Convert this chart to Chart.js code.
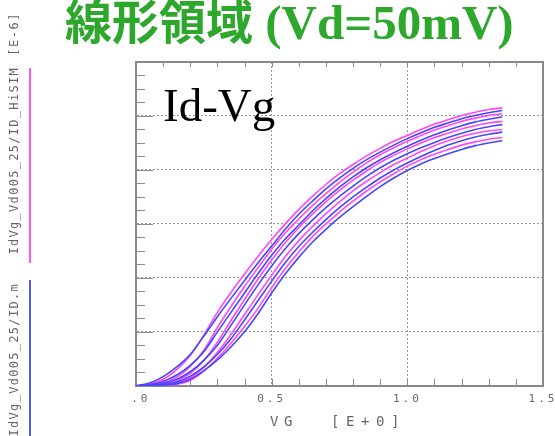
<!DOCTYPE html>
<html>
<head>
<meta charset="utf-8">
<script src="https://cdn.jsdelivr.net/npm/chart.js@4.4.1/dist/chart.umd.min.js"></script>
<style>
  html, body { margin: 0; padding: 0; background: #fff; }
  #wrap { position: relative; width: 555px; height: 436px; overflow: hidden; }
  #chart { position: absolute; left: 0; top: 0; }
  .txt { position: absolute; white-space: pre; }
  #title { left: 65px; top: -5px; font-size: 47px; line-height: 1; color: #2da82d; font-weight: bold; }
  #title .jp { font-family: "Noto Sans CJK JP", sans-serif; }
  #title .en { font-family: "Liberation Serif", serif; font-size: 49px; }
  #idvg { left: 163px; top: 82px; font-family: "Liberation Serif", serif; font-size: 47px; line-height: 1; color: #000; }
  .vert { writing-mode: vertical-rl; transform: rotate(180deg); font-family: "DejaVu Sans Mono", monospace;
          font-size: 12px; line-height: 14px; color: #666; }
  .xt { position: absolute; top: 413px; font-family: "DejaVu Sans Mono", monospace; font-size: 14px; color: #666; white-space: pre; }
  .key { position: absolute; width: 2px; }
</style>
</head>
<body>
<div id="wrap">
  <canvas id="chart" width="555" height="436"></canvas>
  <div id="title" class="txt"><span class="jp">線形領域</span><span class="en"> (Vd=50mV)</span></div>
  <div id="idvg" class="txt">Id-Vg</div>
  <div class="txt vert" style="left:7px; top:12px; letter-spacing:1.5px;">[E-6]</div>
  <div class="txt vert" style="left:7px; top:67px; letter-spacing:1.3px;">IdVg_Vd005_25/ID_HiSIM</div>
  <div class="txt vert" style="left:7px; top:283px; letter-spacing:1.3px;">IdVg_Vd005_25/ID.m</div>
  <div class="key" style="left:29px; top:68px; height:195px; background:#ff55ff;"></div>
  <div class="key" style="left:29px; top:280px; height:160px; background:#5555ff;"></div>
  <div><span class="xt" style="left:270px; letter-spacing:5.6px;">VG </span><span class="xt" style="left:331px; letter-spacing:6.6px;">[E+0]</span></div>
</div>
<script>
// gate voltage sweep (V)
const vg = [0, 0.05, 0.1, 0.15, 0.2, 0.25, 0.3, 0.35, 0.4, 0.45, 0.5, 0.55, 0.6, 0.65, 0.7,
            0.75, 0.8, 0.85, 0.9, 0.95, 1.0, 1.05, 1.1, 1.15, 1.2, 1.25, 1.3, 1.35];

// measured Id (E-6 A), ID.m
const meas1 = [0, 0.05, 0.17, 0.35, 0.58, 0.92, 1.28, 1.62, 1.95, 2.28, 2.59, 2.90, 3.18, 3.42,
               3.65, 3.85, 4.03, 4.19, 4.33, 4.46, 4.58, 4.69, 4.79, 4.87, 4.95, 5.01, 5.06, 5.10];
const meas2 = [0, 0.02, 0.08, 0.20, 0.38, 0.63, 1.00, 1.36, 1.72, 2.08, 2.42, 2.72, 2.98, 3.24,
               3.47, 3.68, 3.87, 4.04, 4.19, 4.32, 4.44, 4.55, 4.65, 4.74, 4.82, 4.89, 4.94, 4.98];
const meas3 = [0, 0.01, 0.04, 0.12, 0.26, 0.47, 0.75, 1.12, 1.50, 1.87, 2.22, 2.54, 2.82, 3.07,
               3.30, 3.51, 3.70, 3.88, 4.04, 4.18, 4.30, 4.41, 4.51, 4.60, 4.68, 4.75, 4.80, 4.84];
const meas4 = [0, 0, 0.02, 0.07, 0.18, 0.35, 0.58, 0.87, 1.22, 1.58, 1.94, 2.28, 2.58, 2.84,
               3.08, 3.30, 3.50, 3.68, 3.85, 4.00, 4.13, 4.25, 4.36, 4.46, 4.54, 4.61, 4.66, 4.70];
const meas5 = [0, 0, 0.01, 0.04, 0.12, 0.28, 0.48, 0.72, 1.00, 1.34, 1.72, 2.07, 2.38, 2.66,
               2.90, 3.12, 3.32, 3.51, 3.69, 3.85, 3.99, 4.11, 4.21, 4.30, 4.38, 4.45, 4.50, 4.54];

// simulated Id (E-6 A), ID_HiSIM
const sim1 = [0, 0.03, 0.12, 0.30, 0.56, 0.94, 1.36, 1.73, 2.07, 2.40, 2.71, 3.00, 3.27, 3.51,
              3.73, 3.93, 4.10, 4.26, 4.40, 4.53, 4.64, 4.75, 4.85, 4.93, 5.01, 5.07, 5.12, 5.15];
const sim2 = [0, 0.01, 0.05, 0.16, 0.36, 0.66, 1.08, 1.47, 1.84, 2.19, 2.53, 2.83, 3.09, 3.34,
              3.56, 3.77, 3.96, 4.13, 4.28, 4.41, 4.53, 4.64, 4.74, 4.82, 4.90, 4.96, 5.01, 5.04];
const sim3 = [0, 0, 0.02, 0.09, 0.23, 0.47, 0.81, 1.21, 1.60, 1.98, 2.33, 2.65, 2.93, 3.18,
              3.41, 3.62, 3.81, 3.98, 4.14, 4.27, 4.39, 4.50, 4.60, 4.68, 4.76, 4.82, 4.87, 4.90];
const sim4 = [0, 0, 0.01, 0.05, 0.15, 0.34, 0.62, 0.95, 1.32, 1.69, 2.05, 2.39, 2.69, 2.95,
              3.19, 3.41, 3.61, 3.79, 3.95, 4.10, 4.22, 4.34, 4.45, 4.54, 4.62, 4.68, 4.72, 4.75];
const sim5 = [0, 0, 0, 0.03, 0.10, 0.27, 0.51, 0.79, 1.10, 1.44, 1.82, 2.17, 2.48, 2.76,
              3.00, 3.22, 3.42, 3.61, 3.78, 3.93, 4.07, 4.19, 4.29, 4.38, 4.46, 4.52, 4.57, 4.60];

const xTickValues = [0, 0.5, 1.0, 1.5];
const xTickLabels = [' .0', '0.5', '1.0', '1.5'];

const BLUE = '#4646ff';
const MAGENTA = '#ff46ff';
const GRAY = '#8a8a8a';

function pts(ys) {
  return ys.map((v, i) => ({ x: vg[i], y: v }));
}
function curve(ys, color) {
  return {
    data: pts(ys),
    borderColor: color,
    borderWidth: 1.6,
    pointRadius: 0,
    fill: false,
    cubicInterpolationMode: 'monotone'
  };
}
function near(a, b) { return Math.abs(a - b) < 1e-6; }

// small tick marks pointing into the plot, like the plotter output
const inwardTicks = {
  id: 'inwardTicks',
  beforeDatasetsDraw(chart) {
    const { ctx, chartArea: a, scales: { x, y } } = chart;
    ctx.save();
    ctx.strokeStyle = GRAY;
    ctx.lineWidth = 1;
    ctx.beginPath();
    x.ticks.forEach(t => {
      const px = Math.round(x.getPixelForValue(t.value)) + 0.5;
      ctx.moveTo(px, a.bottom); ctx.lineTo(px, a.bottom - 7);
      ctx.moveTo(px, a.top); ctx.lineTo(px, a.top + 5);
    });
    y.ticks.forEach(t => {
      const py = Math.round(y.getPixelForValue(t.value)) + 0.5;
      const len = near(t.value, Math.round(t.value)) ? 17 : 9;
      ctx.moveTo(a.left, py); ctx.lineTo(a.left + len, py);
    });
    ctx.stroke();
    ctx.restore();
  }
};

// wide spacing for the tick numbers
const spacing = {
  id: 'spacing',
  beforeLayout(chart) { chart.ctx.letterSpacing = '3px'; },
  beforeDraw(chart) { chart.ctx.letterSpacing = '3px'; }
};

new Chart(document.getElementById('chart'), {
  type: 'line',
  data: {
    datasets: [
      curve(meas1, BLUE), curve(meas2, BLUE), curve(meas3, BLUE), curve(meas4, BLUE), curve(meas5, BLUE),
      curve(sim1, MAGENTA), curve(sim2, MAGENTA), curve(sim3, MAGENTA), curve(sim4, MAGENTA), curve(sim5, MAGENTA)
    ]
  },
  options: {
    responsive: false,
    animation: false,
    devicePixelRatio: 1,
    layout: { padding: { left: 136, top: 62, right: 12, bottom: 23 } },
    plugins: { legend: { display: false }, tooltip: { enabled: false }, title: { display: false } },
    scales: {
      x: {
        type: 'linear', min: 0, max: 1.5,
        // let the last label run off the edge like the original
        afterFit: s => { s.paddingRight = 0; s.paddingLeft = 0; },
        ticks: {
          stepSize: 0.1, autoSkip: false, maxRotation: 0, padding: 7,
          color: '#666', font: { family: 'DejaVu Sans Mono', size: 11 },
          callback: v => {
            const i = xTickValues.findIndex(t => near(t, v));
            return i >= 0 ? xTickLabels[i] : '';
          }
        },
        grid: {
          drawTicks: false,
          color: c => (c.tick && (near(c.tick.value, 0.5) || near(c.tick.value, 1.0))) ? '#9a9a9a' : 'rgba(0,0,0,0)'
        },
        border: { display: true, color: GRAY, width: 2, dash: [2, 2] }
      },
      y: {
        type: 'linear', min: 0, max: 6,
        ticks: { stepSize: 0.25, display: false },
        grid: {
          drawTicks: false,
          color: c => {
            if (!c.tick) return 'rgba(0,0,0,0)';
            const v = c.tick.value;
            return (v > 0.5 && v < 5.5 && near(v, Math.round(v))) ? '#9a9a9a' : 'rgba(0,0,0,0)';
          }
        },
        border: { display: true, color: GRAY, width: 2, dash: [2, 2] }
      },
      x2: {
        type: 'linear', position: 'top', min: 0, max: 1.5,
        ticks: { display: false }, grid: { display: false, drawTicks: false },
        border: { display: true, color: GRAY, width: 2 }
      },
      y2: {
        type: 'linear', position: 'right', min: 0, max: 6,
        ticks: { display: false }, grid: { display: false, drawTicks: false },
        border: { display: true, color: GRAY, width: 2 }
      }
    }
  },
  plugins: [inwardTicks, spacing]
});
</script>
</body>
</html>
